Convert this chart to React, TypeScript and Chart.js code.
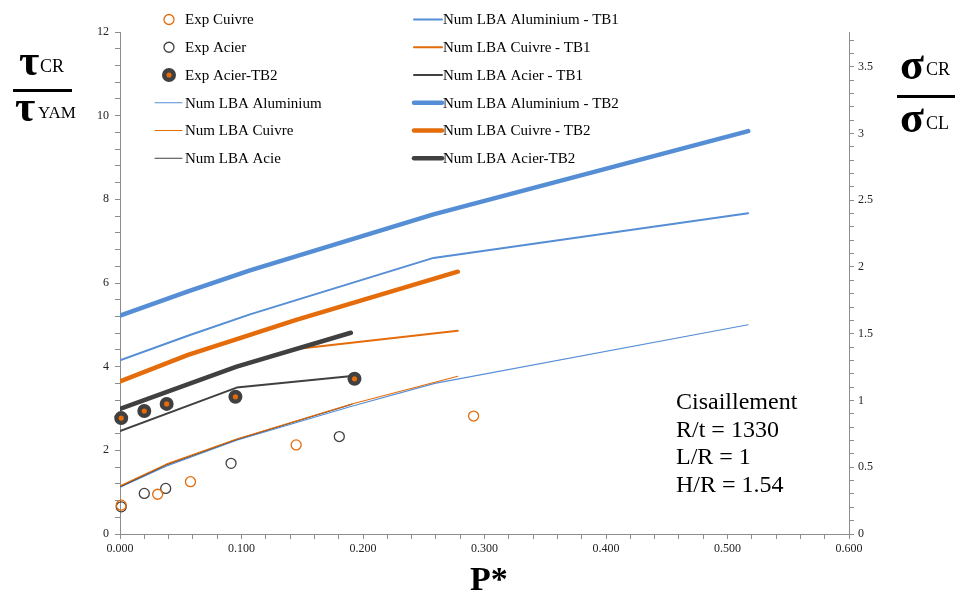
import React, { useEffect, useRef } from "react";
import { Chart, registerables } from "chart.js";

Chart.register(...registerables);

// ---------- Data ----------
const expCuivreP = [0.001, 0.031, 0.058, 0.145, 0.291];
const expCuivreV = [0.69, 0.95, 1.25, 2.13, 2.82];
const expAcierP = [0.001, 0.02, 0.0376, 0.0914, 0.1805];
const expAcierV = [0.65, 0.97, 1.09, 1.69, 2.33];
const expAcierTB2P = [0.001, 0.02, 0.0384, 0.095, 0.193];
const expAcierTB2V = [2.77, 2.94, 3.11, 3.28, 3.71];

const numAluP = [0, 0.038, 0.096, 0.19, 0.259, 0.517];
const numAluV = [1.12, 1.62, 2.24, 3.05, 3.6, 5.0];
const numCuivreP = [0, 0.038, 0.096, 0.19, 0.278];
const numCuivreV = [1.15, 1.67, 2.27, 3.1, 3.77];
const numAcieP = [0, 0.038, 0.096, 0.191];
const numAcieV = [1.13, 1.65, 2.26, 3.1];

const aluTB1P = [0, 0.057, 0.107, 0.145, 0.258, 0.517];
const aluTB1V = [4.15, 4.75, 5.25, 5.59, 6.6, 7.67];
const cuivreTB1P = [0, 0.096, 0.145, 0.278];
const cuivreTB1V = [2.99, 3.98, 4.42, 4.86];
const acierTB1P = [0, 0.096, 0.193];
const acierTB1V = [2.46, 3.5, 3.78];

const aluTB2P = [0, 0.056, 0.107, 0.258, 0.517];
const aluTB2V = [5.22, 5.8, 6.3, 7.64, 9.63];
const cuivreTB2P = [0, 0.056, 0.107, 0.145, 0.278];
const cuivreTB2V = [3.65, 4.28, 4.76, 5.12, 6.27];
const acierTB2P = [0, 0.096, 0.19];
const acierTB2V = [2.99, 4.0, 4.81];

const X_MIN = 0;
const X_MAX = 0.6;
const Y_MIN = 0;
const Y_MAX = 12;
const Y2_MAX = 3.76;
const X_MINOR = 0.02;
const X_MAJOR = 0.1;
const Y_MINOR = 0.4;
const Y_MAJOR = 2;
const Y2_MINOR = 0.1;
const Y2_MAJOR = 0.5;

const annotationLines = ["Cisaillement", "R/t = 1330", "L/R = 1", "H/R = 1.54"];

// ---------- Styles ----------
const BLUE = "#558ED5";
const ORANGE = "#E46C0A";
const DARK = "#404040";
const AXIS = "#8C8C8C";
const FONT = "'Liberation Serif', 'Times New Roman', serif";

const pts = (p: number[], v: number[]) => p.map((x, i) => ({ x, y: v[i] }));
const isMult = (v: number, step: number) =>
  Math.abs(v / step - Math.round(v / step)) < 1e-6;

const lineDs = (label: string, p: number[], v: number[], color: string, width: number, order: number) => ({
  label,
  data: pts(p, v),
  showLine: true,
  borderColor: color,
  backgroundColor: color,
  borderWidth: width,
  borderCapStyle: "round" as const,
  borderJoinStyle: "round" as const,
  pointRadius: 0,
  pointHoverRadius: 0,
  tension: 0,
  order,
});

const App: React.FC = () => {
  const canvasRef = useRef<HTMLCanvasElement | null>(null);

  useEffect(() => {
    if (!canvasRef.current) return;

    const datasets: any[] = [
      {
        label: "Exp Cuivre",
        data: pts(expCuivreP, expCuivreV),
        showLine: false,
        pointRadius: 5,
        pointBorderWidth: 1.3,
        pointBorderColor: ORANGE,
        pointBackgroundColor: "rgba(255,255,255,0)",
        borderColor: ORANGE,
        backgroundColor: "rgba(255,255,255,0)",
        clip: false,
        order: 0,
      },
      {
        label: "Exp Acier",
        data: pts(expAcierP, expAcierV),
        showLine: false,
        pointRadius: 5,
        pointBorderWidth: 1.3,
        pointBorderColor: DARK,
        pointBackgroundColor: "rgba(255,255,255,0)",
        borderColor: DARK,
        backgroundColor: "rgba(255,255,255,0)",
        clip: false,
        order: 0,
      },
      {
        label: "Exp Acier-TB2",
        data: pts(expAcierTB2P, expAcierTB2V),
        showLine: false,
        pointRadius: 4.8,
        pointBorderWidth: 4.4,
        pointBorderColor: DARK,
        pointBackgroundColor: ORANGE,
        borderColor: DARK,
        backgroundColor: ORANGE,
        clip: false,
        order: 0,
      },
      lineDs("Num LBA Aluminium", numAluP, numAluV, BLUE, 1.1, 4),
      lineDs("Num LBA Cuivre", numCuivreP, numCuivreV, ORANGE, 1.1, 3),
      lineDs("Num LBA Acie", numAcieP, numAcieV, DARK, 1.1, 3),
      lineDs("Num LBA Aluminium - TB1", aluTB1P, aluTB1V, BLUE, 2, 2),
      lineDs("Num LBA Cuivre - TB1", cuivreTB1P, cuivreTB1V, ORANGE, 2, 6),
      lineDs("Num LBA Acier - TB1", acierTB1P, acierTB1V, DARK, 2, 2),
      lineDs("Num LBA Aluminium - TB2", aluTB2P, aluTB2V, BLUE, 4.5, 1),
      lineDs("Num LBA Cuivre - TB2", cuivreTB2P, cuivreTB2V, ORANGE, 4.5, 1),
      lineDs("Num LBA Acier-TB2", acierTB2P, acierTB2V, DARK, 4.5, 1),
    ];

    const legendPlugin = {
      id: "twoColumnLegend",
      afterDraw(chart: any) {
        const ctx = chart.ctx as CanvasRenderingContext2D;
        ctx.save();
        ctx.font = `15px ${FONT}`;
        ctx.textBaseline = "middle";
        chart.data.datasets.forEach((ds: any, i: number) => {
          const col = i < 6 ? 0 : 1;
          const row = i % 6;
          const y = 19.5 + row * 27.75;
          const lx0 = col === 0 ? 155 : 414;
          const lx1 = col === 0 ? 182 : 442;
          const tx = col === 0 ? 185 : 443;
          if (ds.showLine === false) {
            const cx = 169;
            ctx.beginPath();
            ctx.arc(cx, y, ds.pointRadius, 0, Math.PI * 2);
            ctx.fillStyle = ds.pointBackgroundColor;
            ctx.fill();
            ctx.lineWidth = ds.pointBorderWidth;
            ctx.strokeStyle = ds.pointBorderColor;
            ctx.stroke();
          } else {
            ctx.beginPath();
            ctx.moveTo(lx0, y);
            ctx.lineTo(lx1, y);
            ctx.lineWidth = ds.borderWidth;
            ctx.lineCap = "round";
            ctx.strokeStyle = ds.borderColor;
            ctx.stroke();
          }
          ctx.fillStyle = "#000";
          ctx.fillText(ds.label, tx, y + 1);
        });
        ctx.restore();
      },
    };

    const tickFont = { family: FONT, size: 12 };

    const chart = new Chart(canvasRef.current, {
      type: "scatter",
      data: { datasets },
      options: {
        animation: false,
        responsive: false,
        maintainAspectRatio: false,
        layout: { padding: { top: 32, left: 0, right: 0, bottom: 0 } },
        plugins: {
          legend: { display: false },
          tooltip: { enabled: false },
          title: { display: false },
        },
        scales: {
          x: {
            type: "linear",
            position: "bottom",
            min: X_MIN,
            max: X_MAX,
            ticks: {
              stepSize: X_MINOR,
              autoSkip: false,
              maxRotation: 0,
              padding: 3,
              color: "#222",
              font: tickFont,
              callback: (v: any) => (isMult(Number(v), X_MAJOR) ? Number(v).toFixed(3) : ""),
            },
            grid: { drawOnChartArea: false, drawTicks: true, tickLength: 5, color: AXIS },
            border: { color: AXIS, width: 1 },
            afterFit: (s: any) => {
              s.height = 58;
            },
          },
          y: {
            type: "linear",
            position: "left",
            min: Y_MIN,
            max: Y_MAX,
            ticks: {
              stepSize: Y_MINOR,
              autoSkip: false,
              padding: 6,
              color: "#222",
              font: tickFont,
              callback: (v: any) => (isMult(Number(v), Y_MAJOR) ? String(Math.round(Number(v))) : ""),
            },
            grid: { drawOnChartArea: false, drawTicks: true, tickLength: 5, color: AXIS },
            border: { color: AXIS, width: 1 },
            afterFit: (s: any) => {
              s.width = 120;
            },
          },
          y2: {
            type: "linear",
            position: "right",
            min: 0,
            max: Y2_MAX,
            ticks: {
              stepSize: Y2_MINOR,
              includeBounds: false,
              autoSkip: false,
              padding: 4,
              color: "#222",
              font: tickFont,
              callback: (v: any) =>
                isMult(Number(v), Y2_MAJOR) ? String(Math.round(Number(v) * 10) / 10) : "",
            },
            grid: { drawOnChartArea: false, drawTicks: true, tickLength: 5, color: AXIS },
            border: { color: AXIS, width: 1 },
            afterFit: (s: any) => {
              s.width = 107;
            },
          },
        },
      } as any,
      plugins: [legendPlugin],
    });

    return () => {
      chart.destroy();
    };
  }, []);

  const serif: React.CSSProperties = { fontFamily: FONT, color: "#000", position: "absolute", whiteSpace: "nowrap", lineHeight: 1 };

  return (
    <div style={{ position: "fixed", left: 0, top: 0, width: 956, height: 592, background: "#fff", overflow: "hidden" }}>
      <canvas ref={canvasRef} width={956} height={592} style={{ position: "absolute", left: 0, top: 0, width: 956, height: 592 }} />

      {/* Left axis title */}
      <span style={{ ...serif, left: 19, top: 39, fontSize: 44, fontWeight: "bold" }}>τ</span>
      <span style={{ ...serif, left: 40, top: 57, fontSize: 18 }}>CR</span>
      <div style={{ position: "absolute", left: 13, top: 89, width: 59, height: 3, background: "#000" }} />
      <span style={{ ...serif, left: 15, top: 85, fontSize: 44, fontWeight: "bold" }}>τ</span>
      <span style={{ ...serif, left: 38, top: 104, fontSize: 17 }}>YAM</span>

      {/* Right axis title */}
      <span style={{ ...serif, left: 900, top: 43, fontSize: 44, fontWeight: "bold" }}>σ</span>
      <span style={{ ...serif, left: 926, top: 60, fontSize: 18 }}>CR</span>
      <div style={{ position: "absolute", left: 897, top: 95, width: 58, height: 3, background: "#000" }} />
      <span style={{ ...serif, left: 900, top: 96, fontSize: 44, fontWeight: "bold" }}>σ</span>
      <span style={{ ...serif, left: 926, top: 114, fontSize: 18 }}>CL</span>

      {/* X axis title */}
      <span style={{ ...serif, left: 470, top: 562, fontSize: 34, fontWeight: "bold" }}>P*</span>

      {/* Annotation */}
      <div style={{ position: "absolute", left: 676, top: 388, fontFamily: FONT, fontSize: 24, lineHeight: "27.7px", color: "#000", whiteSpace: "nowrap" }}>
        {annotationLines.map((t) => (
          <div key={t}>{t}</div>
        ))}
      </div>
    </div>
  );
};

export default App;
